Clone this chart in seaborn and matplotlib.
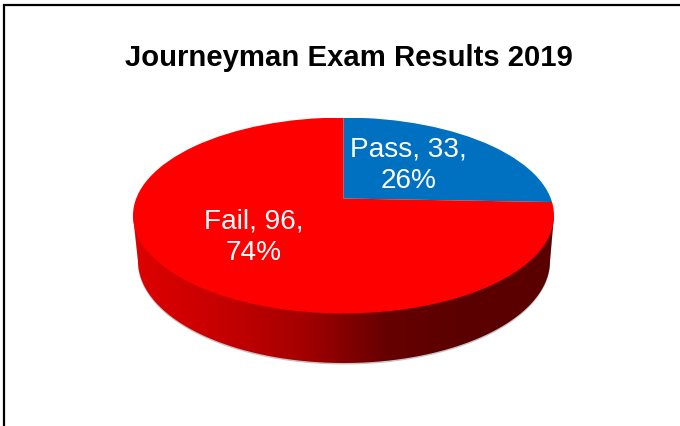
# Journeyman exam results as a fake 3D pie (squashed pie plus a shaded side wall).
import matplotlib

matplotlib.use("Agg")
import matplotlib.pyplot as plt
import numpy as np
import seaborn as sns
from matplotlib.patches import Circle, Polygon

categories = ["Pass", "Fail"]
counts = [33, 96]
percents = [26, 74]
slice_colors = ["#0070C0", "#FF0000"]
title = "Journeyman Exam Results 2019"

sns.set_theme(style="white")
plt.rcParams["font.family"] = ["Liberation Sans", "DejaVu Sans"]

fig = plt.figure(figsize=(6.8, 4.27), dpi=100, facecolor="white")

# background axes works in reference pixels, y pointing down
bg = fig.add_axes([0, 0, 1, 1], zorder=0)
bg.set_axis_off()

# side wall: from the edge of the top disc down round a slightly narrower bottom ellipse
t = np.linspace(np.pi, 0, 200)
wall = [(133, 216)] + list(zip(344 + 206 * np.cos(t), 262 + 102 * np.sin(t))) + [(554, 216)]
shadow = [(x, y + 1.5) for x, y in wall]
bg.add_patch(Polygon(shadow, closed=True, facecolor="#c4c4c4", edgecolor="none", zorder=1))

shade = sns.blend_palette(["#DE0000", "#C80000", "#A50000", "#660000", "#5A0000", "#5A0000"], as_cmap=True)
img = bg.imshow(np.linspace(0, 1, 256)[None, :], extent=(133, 554, 366, 216), cmap=shade,
                aspect="auto", zorder=2)
img.set_clip_path(Polygon(wall, closed=True, transform=bg.transData))

# chart border, cut off by the image on the right and bottom
bg.plot([4, 4, 680], [427, 5.5, 5.5], color="black", lw=1.6, solid_joinstyle="miter", zorder=3)
bg.set_xlim(0, 680)
bg.set_ylim(427, 0)

# top disc: the unit circle of this axes is the ellipse, the wedges meet off-centre
top = fig.add_axes([133 / 680, (427 - 314.5) / 427, 421 / 680, 196 / 427], zorder=1)
wedges, _ = top.pie(counts, colors=slice_colors, startangle=90, counterclock=False,
                    radius=3, center=(0, 17 / 98), wedgeprops={"linewidth": 0})
top.set_aspect("auto")
top.set_xlim(-1, 1)
top.set_ylim(-1, 1)
top.set_axis_off()
for w in wedges:
    w.set_clip_on(True)
    w.set_clip_path(Circle((0, 0), 1, transform=top.transData))

# labels sit above the disc but keep pixel positions
label_pos = [(408.5, 165.5), (254, 237.5)]
for cat, n, pct, (x, y) in zip(categories, counts, percents, label_pos):
    top.text(x, y, f"{cat}, {n},\n{pct}%", transform=bg.transData, color="white", fontsize=20.2,
             ha="center", va="center", linespacing=1.25, clip_on=False)

fig.text(349 / 680, 1 - 58 / 427, title, fontsize=21.1, fontweight="bold", color="black",
         ha="center", va="center")

fig.savefig("out.png", dpi=100)
